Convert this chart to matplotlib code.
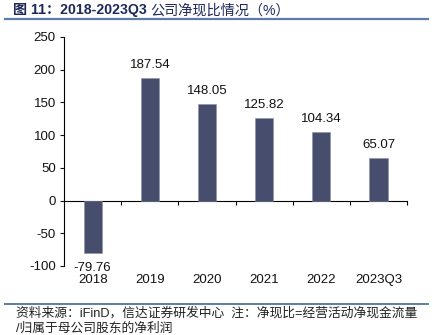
import numpy as np
import matplotlib.pyplot as plt
from matplotlib.lines import Line2D
import matplotlib.transforms as mtransforms

plt.rcParams['font.family'] = ['Liberation Sans', 'Noto Sans CJK SC', 'DejaVu Sans']
plt.rcParams['axes.unicode_minus'] = False

years = ['2018', '2019', '2020', '2021', '2022', '2023Q3']
ratio = [-79.76, 187.54, 148.05, 125.82, 104.34, 65.07]
yticks = [-100, -50, 0, 50, 100, 150, 200, 250]

bar_color = '#464D6D'
navy = '#1F2A5C'

fig = plt.figure(figsize=(4.33, 3.35), dpi=100)
ax = fig.add_axes([0.148, 0.206, 0.792, 0.684])

x = np.arange(len(years))
ax.bar(x, ratio, width=0.32, color=bar_color, edgecolor='#8A90A8', linewidth=0.4, zorder=3)

for xi, v in zip(x, ratio):
    if v >= 0:
        ax.annotate('%.2f' % v, (xi, v), xytext=(0, 5), textcoords='offset points',
                    ha='center', va='bottom', fontsize=9.5, color='#111111')
    else:
        ax.annotate('%.2f' % v, (xi, v), xytext=(0, -7), textcoords='offset points',
                    ha='center', va='top', fontsize=9.5, color='#111111')

ax.set_xlim(-0.5, len(years) - 0.5)
ax.set_ylim(-100, 250)
ax.set_yticks(yticks)
ax.tick_params(axis='y', labelsize=9.5, length=3, width=0.8, pad=3, colors='#111111')

# zero line with category separators
ax.spines['bottom'].set_position(('data', 0))
ax.spines['bottom'].set_linewidth(0.8)
ax.set_xticks(np.arange(len(years)) + 0.5)
ax.tick_params(axis='x', length=3, width=0.8, labelbottom=False)
ax.spines['top'].set_visible(False)
ax.spines['right'].set_visible(False)
ax.spines['left'].set_linewidth(0.8)

trans = mtransforms.blended_transform_factory(ax.transData, ax.transAxes)
for xi, lab in zip(x, years):
    ax.text(xi, -0.035, lab, transform=trans, ha='center', va='top', fontsize=9.5, color='#111111')

# title
t1 = fig.text(0.03, 0.969, '图 11：2018-2023Q3 ', fontsize=10.2, fontweight='bold',
              color=navy, ha='left', va='center')
fig.canvas.draw()
bb = t1.get_window_extent()
fig.text(bb.x1 / fig.bbox.width, 0.969, '公司净现比情况（%）', fontsize=10.2,
         color=navy, ha='left', va='center')

fig.add_artist(Line2D([0.012, 0.988], [0.943, 0.943], color='#5E7CA6', linewidth=1.6))
fig.add_artist(Line2D([0.012, 0.988], [0.094, 0.094], color='#5E7CA6', linewidth=1.4))

fig.text(0.038, 0.065, '资料来源：iFinD，信达证券研发中心  注：净现比=经营活动净现金流量',
         fontsize=9.2, color='#222222', ha='left', va='center')
fig.text(0.038, 0.020, '/归属于母公司股东的净利润',
         fontsize=9.2, color='#222222', ha='left', va='center')

fig.savefig('out.png', dpi=100)
